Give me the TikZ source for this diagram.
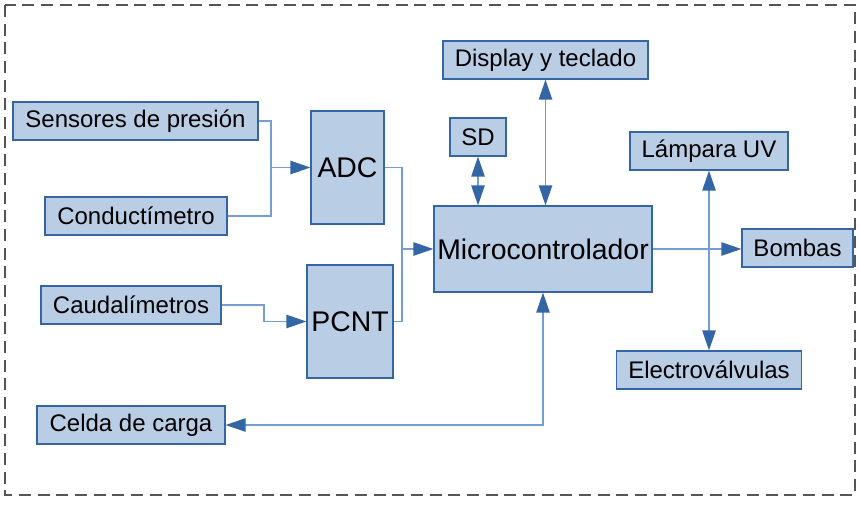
\documentclass[tikz,border=0pt]{standalone}
\usepackage{fontspec}
\setmainfont{Liberation Sans}
\usetikzlibrary{arrows.meta}
\definecolor{boxfill}{HTML}{B9CDE5}
\definecolor{boxline}{HTML}{3465A4}
\definecolor{lnblue}{HTML}{729FCF}
\definecolor{tipblue}{HTML}{3465A4}
\definecolor{framegray}{HTML}{555555}
\begin{document}
\begin{tikzpicture}[x=0.75pt, y=-0.75pt,
  blk/.style={draw=boxline, fill=boxfill, line width=0.9pt, inner sep=0pt,
    font=\fontsize{18}{21}\selectfont},
  bigblk/.style={blk, font=\fontsize{21.3}{25}\selectfont},
  conn/.style={draw=lnblue, line width=1.1pt},
  arr/.style={conn, -{Triangle[length=15pt, width=10pt, color=tipblue, fill=tipblue]}},
  dbl/.style={conn, {Triangle[length=15pt, width=10pt, color=tipblue, fill=tipblue]}-{Triangle[length=15pt, width=10pt, color=tipblue, fill=tipblue]}}]
\useasboundingbox (0,0) rectangle (859,508);
\draw[framegray, line width=0.8pt, dash pattern=on 9pt off 5pt] (5,5) rectangle (855,495);
\node[blk, minimum width=245*0.75pt, minimum height=38*0.75pt] (sens) at (135.5,121){Sensores de presión};
\node[blk, minimum width=182*0.75pt, minimum height=38*0.75pt] (cond) at (136,216){Conductímetro};
\node[blk, minimum width=180*0.75pt, minimum height=38*0.75pt] (caud) at (131,305){Caudalímetros};
\node[blk, minimum width=188*0.75pt, minimum height=38*0.75pt] (celda) at (131,425){Celda de carga};
\node[bigblk, minimum width=73*0.75pt, minimum height=113*0.75pt] (adc) at (347.5,167.5){ADC};
\node[bigblk, minimum width=86*0.75pt, minimum height=113*0.75pt] (pcnt) at (350,321.5){PCNT};
\node[bigblk, minimum width=218*0.75pt, minimum height=86*0.75pt] (micro) at (543,249){Microcontrolador};
\node[blk, minimum width=205*0.75pt, minimum height=38*0.75pt] (disp) at (545.5,60){Display y teclado};
\node[blk, minimum width=56*0.75pt, minimum height=38*0.75pt] (sd) at (478,137){SD};
\node[blk, minimum width=158*0.75pt, minimum height=38*0.75pt] (lamp) at (709,151){Lámpara UV};
\node[blk, minimum width=111*0.75pt, minimum height=38*0.75pt] (bomb) at (797.5,248){Bombas};
\node[blk, minimum width=185*0.75pt, minimum height=38*0.75pt] (elec) at (709,370){Electroválvulas};
\coordinate (ja) at (271,167.5);
\coordinate (jc) at (264,305);
\coordinate (jm) at (402,249);
\coordinate (jr) at (709,249);
\draw[conn] (sens.east) -| (ja);
\draw[conn] (cond.east) -| (ja);
\draw[arr] (ja) -- (adc.west);
\draw[arr] (caud.east) -- (jc) |- (pcnt.west);
\draw[conn] (adc.east) -| (jm);
\draw[conn] (pcnt.east) -| (jm);
\draw[arr] (jm) -- (micro.west);
\draw[dbl] (sd.south) -- (sd.south |- micro.north);
\draw[dbl] (disp.south) -- (disp.south |- micro.north);
\draw[conn] (micro.east) -- (jr);
\draw[arr] (jr) -- (jr -| bomb.west);
\draw[dbl] (lamp.south) -- (elec.north);
\draw[dbl] (micro.south) |- (celda.east);
\end{tikzpicture}
\end{document}
